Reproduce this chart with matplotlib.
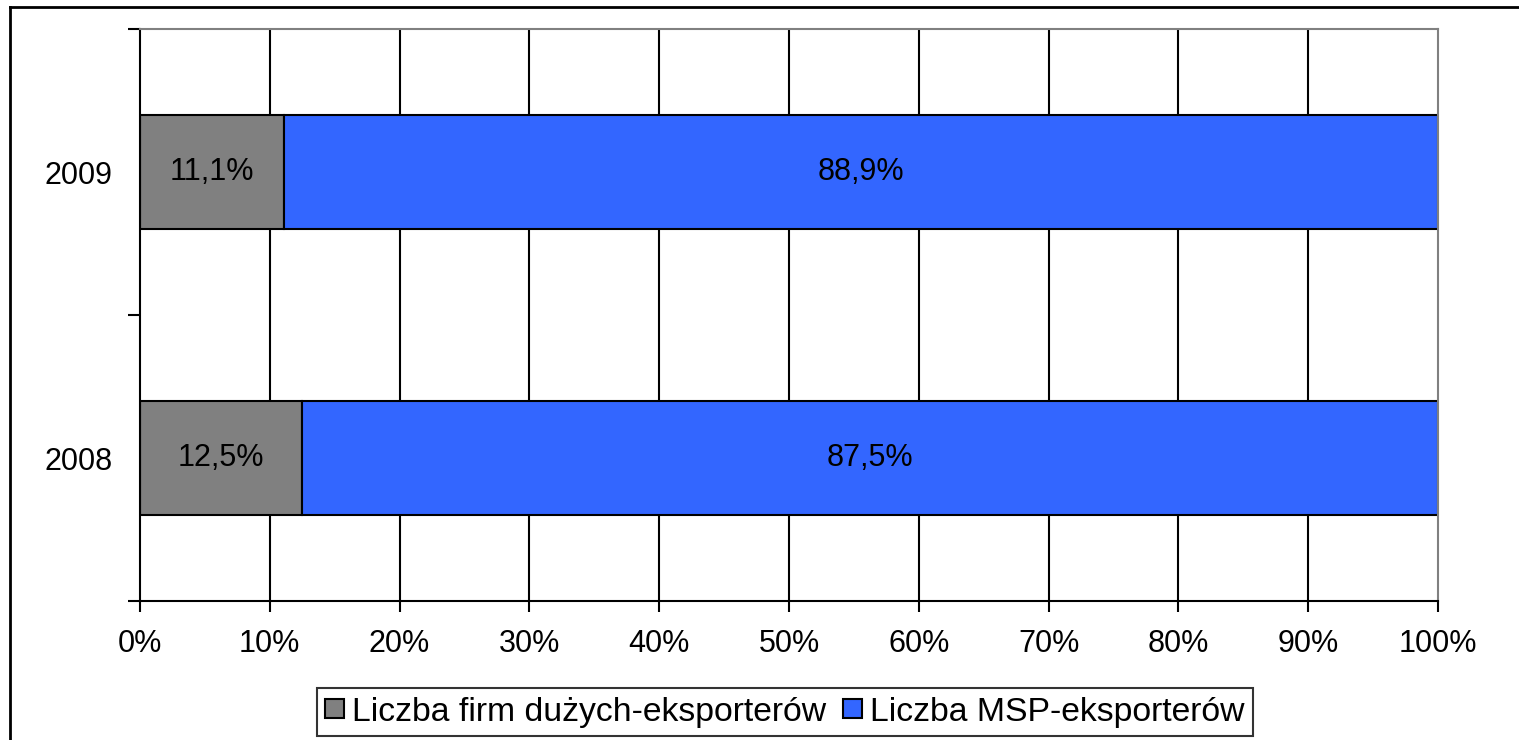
import matplotlib
matplotlib.use("Agg")
import matplotlib.pyplot as plt
from matplotlib.lines import Line2D
from matplotlib.patches import Patch

years = ["2008", "2009"]
large = [12.5, 11.1]
sme = [87.5, 88.9]
series_names = ["Liczba firm dużych-eksporterów", "Liczba MSP-eksporterów"]
xticks = list(range(0, 101, 10))

plt.rcParams['font.family'] = ['Liberation Sans', 'DejaVu Sans']
FS = 22

fig = plt.figure(figsize=(15.19, 7.40), dpi=100)
ax = fig.add_axes([140/1519, 1-601/740, (1438-140)/1519, (601-29)/740])

grey = "#808080"
blue = "#3366FF"
ypos = list(range(len(years)))

for x in xticks[1:-1]:
    ax.axvline(x, color="black", lw=1.5, zorder=0)

ax.barh(ypos, large, height=0.40, color=grey, edgecolor="black", lw=1.5, zorder=2)
ax.barh(ypos, sme, left=large, height=0.40, color=blue, edgecolor="black", lw=1.5, zorder=2)

for i in ypos:
    ax.text(large[i]/2, i, f"{large[i]:.1f}%".replace(".", ","), ha="center", va="center", fontsize=FS, zorder=3)
    ax.text(large[i] + sme[i]/2, i, f"{sme[i]:.1f}%".replace(".", ","), ha="center", va="center", fontsize=FS, zorder=3)

ax.set_xlim(0, 100)
ax.set_ylim(-0.5, 1.5)
ax.set_xticks(xticks)
ax.set_xticklabels([f"{x}%" for x in xticks], fontsize=FS)
ax.set_yticks(ypos)
ax.set_yticklabels(years, fontsize=FS)
ax.set_yticks([-0.5, 0.5, 1.5], minor=True)
ax.tick_params(axis="y", which="major", length=0, pad=20)
ax.tick_params(axis="y", which="minor", length=9, width=1.5, color="black")
ax.tick_params(axis="x", which="major", length=8, width=1.5, color="black", pad=12)

ax.spines["left"].set_color("black")
ax.spines["left"].set_linewidth(1.5)
ax.spines["bottom"].set_color("black")
ax.spines["bottom"].set_linewidth(1.5)
ax.spines["top"].set_color(grey)
ax.spines["top"].set_linewidth(1.5)
ax.spines["right"].set_color(grey)
ax.spines["right"].set_linewidth(1.5)

handles = [Patch(facecolor=grey, edgecolor="black", lw=1.5), Patch(facecolor=blue, edgecolor="black", lw=1.5)]
leg = fig.legend(handles, series_names, loc="center", bbox_to_anchor=(785/1519, 1-712/740),
                 ncol=2, fontsize=24.3, frameon=True, fancybox=False, edgecolor="black",
                 handlelength=0.55, handleheight=0.45, handletextpad=0.25, columnspacing=0.5,
                 borderpad=0.25, borderaxespad=0)
leg.get_frame().set_linewidth(1.5)

# outer frame of chart area
fig.add_artist(Line2D([10/1519, 10/1519], [0, 1-7/740], transform=fig.transFigure, color="black", lw=2))
fig.add_artist(Line2D([10/1519, 1], [1-7/740, 1-7/740], transform=fig.transFigure, color="black", lw=2))

fig.savefig("out.png", dpi=100)
